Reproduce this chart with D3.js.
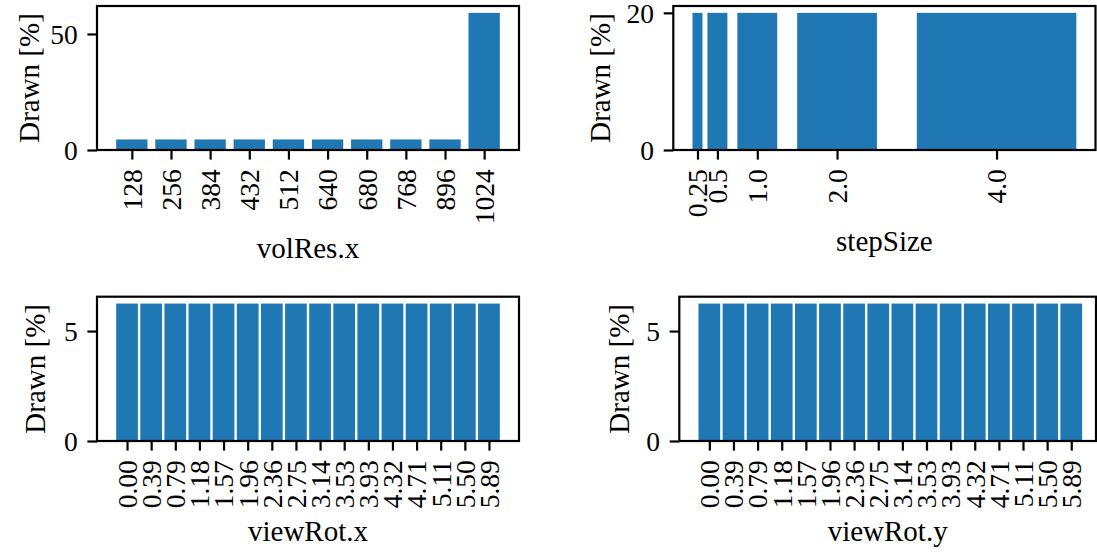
<!DOCTYPE html>
<html>
<head>
<meta charset="utf-8">
<script src="https://cdn.jsdelivr.net/npm/d3@7"></script>
<style>
  html, body { margin: 0; padding: 0; background: #fff; }
  svg { display: block; }
  text { font-family: "Liberation Serif", "DejaVu Serif", serif; fill: #000; }
</style>
</head>
<body>
<svg id="chart" width="1097" height="552"></svg>
<script>
// Share of drawn samples per parameter value, in percent.
const volResCategories = ["128", "256", "384", "432", "512", "640", "680", "768", "896", "1024"];
const volResDrawn = [4.545, 4.545, 4.545, 4.545, 4.545, 4.545, 4.545, 4.545, 4.545, 59.09];

const stepSizeValues = [0.25, 0.5, 1.0, 2.0, 4.0];
const stepSizeTickLabels = ["0.25", "0.5", "1.0", "2.0", "4.0"];
const stepSizeDrawn = [20, 20, 20, 20, 20];

const viewRotValues = [0.0, 0.3927, 0.7854, 1.1781, 1.5708, 1.9635, 2.3562, 2.7489,
                       3.1416, 3.5343, 3.9270, 4.3197, 4.7124, 5.1051, 5.4978, 5.8905];
const viewRotTickLabels = ["0.00", "0.39", "0.79", "1.18", "1.57", "1.96", "2.36", "2.75",
                           "3.14", "3.53", "3.93", "4.32", "4.71", "5.11", "5.50", "5.89"];
const viewRotXDrawn = [6.25, 6.25, 6.25, 6.25, 6.25, 6.25, 6.25, 6.25,
                       6.25, 6.25, 6.25, 6.25, 6.25, 6.25, 6.25, 6.25];
const viewRotYDrawn = [6.25, 6.25, 6.25, 6.25, 6.25, 6.25, 6.25, 6.25,
                       6.25, 6.25, 6.25, 6.25, 6.25, 6.25, 6.25, 6.25];

const volResYTicks = [0, 50];
const stepSizeYTicks = [0, 20];
const viewRotYTicks = [0, 5];

const BAR = "#1f77b4";
const TICK_FONT = 27.5, LABEL_FONT = 29;
const TICK = 9.6, PAD = 9.6, LW = 2.2;

const svg = d3.select("#chart");

// 5% autoscale margin around the bar extents
function padded(lo, hi) { const m = (hi - lo) * 0.05; return [lo - m, hi + m]; }

function panel(cfg) {
  const { box, positions, widths, values, tickLabels, yTicks, xlabel, ylabelX, xlabelY } = cfg;
  const lefts = positions.map((p, i) => p - widths[i] / 2);
  const rights = positions.map((p, i) => p + widths[i] / 2);
  const x = d3.scaleLinear()
    .domain(padded(d3.min(lefts), d3.max(rights)))
    .range([box.left, box.left + (box.span || (box.right - box.left))]);
  const yMax = d3.max(values) * 1.05;
  const y = d3.scaleLinear().domain([0, yMax]).range([box.bottom, box.top]);

  const g = svg.append("g");
  const clipId = "clip" + Math.round(box.left) + "_" + Math.round(box.top);
  g.append("clipPath").attr("id", clipId).append("rect")
    .attr("x", box.left).attr("y", box.top - 2)
    .attr("width", box.right - box.left).attr("height", box.bottom - box.top + 60);

  g.append("g").attr("clip-path", `url(#${clipId})`)
    .selectAll("rect.bar").data(values).join("rect")
    .attr("class", "bar")
    .attr("x", (d, i) => x(lefts[i]))
    .attr("width", (d, i) => x(rights[i]) - x(lefts[i]))
    .attr("y", d => y(d))
    .attr("height", d => y(0) - y(d))
    .attr("fill", BAR);

  // y axis
  const ya = g.append("g").attr("transform", `translate(${box.left},0)`)
    .call(d3.axisLeft(y).tickValues(yTicks).tickFormat(d3.format("d"))
      .tickSize(TICK).tickPadding(PAD));
  ya.select(".domain").remove();
  ya.selectAll(".tick line").attr("stroke", "#000").attr("stroke-width", LW);
  ya.selectAll(".tick text").attr("font-size", TICK_FONT).attr("font-family", null).attr("dy", "0.34em");

  // x axis with vertical labels
  const xa = g.append("g").attr("transform", `translate(0,${box.bottom})`)
    .call(d3.axisBottom(x).tickValues(positions).tickFormat((d, i) => tickLabels[i])
      .tickSize(TICK).tickPadding(PAD));
  xa.select(".domain").remove();
  xa.selectAll(".tick line").attr("stroke", "#000").attr("stroke-width", LW);
  xa.selectAll(".tick text")
    .attr("font-size", TICK_FONT).attr("font-family", null)
    .attr("transform", "rotate(-90)")
    .attr("text-anchor", "end")
    .attr("x", -(TICK + PAD)).attr("y", 0).attr("dy", "0.34em");

  // frame on top of the bars
  g.append("rect")
    .attr("x", box.left).attr("y", box.top)
    .attr("width", box.right - box.left).attr("height", box.bottom - box.top)
    .attr("fill", "none").attr("stroke", "#000").attr("stroke-width", LW);

  g.append("text")
    .attr("x", (box.left + box.right) / 2).attr("y", xlabelY)
    .attr("text-anchor", "middle").attr("font-size", LABEL_FONT)
    .text(xlabel);

  g.append("text")
    .attr("transform", `translate(${ylabelX},${(box.top + box.bottom) / 2}) rotate(-90)`)
    .attr("text-anchor", "middle").attr("font-size", LABEL_FONT)
    .text("Drawn [%]");
}

const volResIdx = volResCategories.map((c, i) => i);
panel({
  box: { left: 97, right: 519, top: 6, bottom: 150 },
  positions: volResIdx, widths: volResIdx.map(() => 0.8),
  values: volResDrawn, tickLabels: volResCategories, yTicks: volResYTicks,
  xlabel: "volRes.x", ylabelX: 38.5, xlabelY: 257.5
});

panel({
  box: { left: 673.3, right: 1095.5, top: 6, bottom: 150 },
  positions: stepSizeValues, widths: stepSizeValues.map(v => v / 2),
  values: stepSizeDrawn, tickLabels: stepSizeTickLabels, yTicks: stepSizeYTicks,
  xlabel: "stepSize", ylabelX: 609.5, xlabelY: 251
});

const rotStep = viewRotValues[1] - viewRotValues[0];
panel({
  box: { left: 97, right: 519, top: 296.7, bottom: 441 },
  positions: viewRotValues, widths: viewRotValues.map(() => rotStep * 0.9),
  values: viewRotXDrawn, tickLabels: viewRotTickLabels, yTicks: viewRotYTicks,
  xlabel: "viewRot.x", ylabelX: 45, xlabelY: 541
});

panel({
  box: { left: 679.3, right: 1096, span: 422, top: 296.7, bottom: 441 },
  positions: viewRotValues, widths: viewRotValues.map(() => rotStep * 0.9),
  values: viewRotYDrawn, tickLabels: viewRotTickLabels, yTicks: viewRotYTicks,
  xlabel: "viewRot.y", ylabelX: 628.5, xlabelY: 541
});
</script>
</body>
</html>
